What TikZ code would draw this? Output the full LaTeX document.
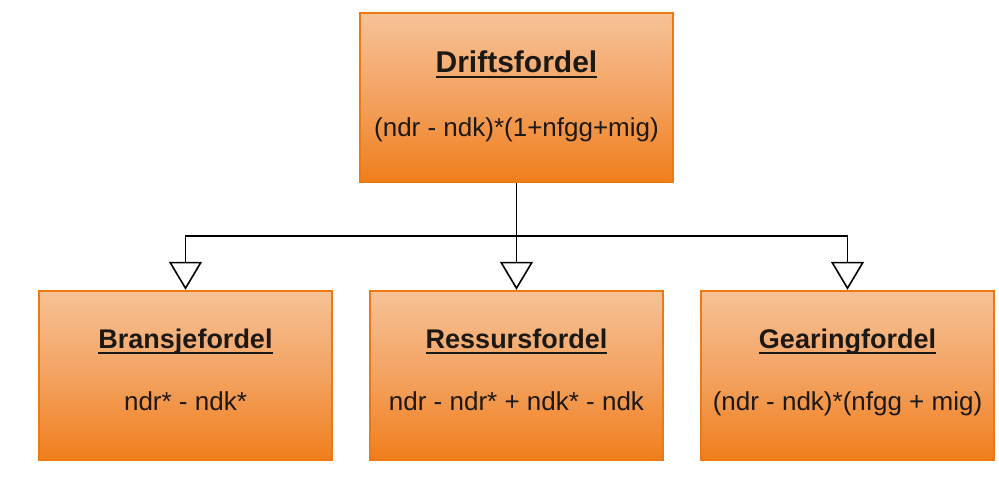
\documentclass[tikz,border=0pt]{standalone}
\usepackage{fontspec}
\setmainfont{Liberation Sans}
\usetikzlibrary{arrows.meta,calc}

\definecolor{boxedge}{RGB}{238,120,18}
\definecolor{boxtop}{RGB}{246,194,150}
\definecolor{boxmid}{RGB}{243,162,96}
\definecolor{boxbot}{RGB}{240,126,28}
\definecolor{ink}{RGB}{28,24,20}

% bold title with a flat underline a fixed distance below the baseline
\newcommand\ultitle[1]{\setbox0\hbox{\bfseries #1}\rlap{\usebox0}\rule[-5.5pt]{\wd0}{1.7pt}}

\begin{document}
\begin{tikzpicture}[x=1pt,y=-1pt,
  fbox/.style={draw=boxedge, line width=2.4pt, top color=boxtop, bottom color=boxbot,
               middle color=boxmid, minimum width=293pt, minimum height=169pt, inner sep=0pt},
  titletxt/.style={anchor=base, inner sep=0pt, text=ink, font=\fontsize{27}{32}\selectfont},
  formtxt/.style={anchor=base, inner sep=0pt, text=ink, font=\fontsize{26}{31}\selectfont},
  link/.style={draw=black, line width=1.8pt,
               -{Triangle[length=28pt, width=33pt, fill=white, line width=1.6pt]}}
]
\fill[white] (0,0) rectangle (999,477);
\useasboundingbox (0,0) rectangle (999,477);

% boxes
\node[fbox, minimum width=313pt] (drift) at (516.5,97.5) {};
\node[fbox] (bransje) at (185.5,375.5) {};
\node[fbox] (ressurs) at (516.5,375.5) {};
\node[fbox] (gearing) at (847.5,375.5) {};

% texts
\node[titletxt, font=\fontsize{30}{36}\selectfont] (driftT) at ($(drift.center)+(0,-25.5)$) {\ultitle{Driftsfordel}};
\node[formtxt] (driftF) at ($(drift.center)+(0,39)$) {(ndr - ndk)*(1+nfgg+mig)};

\node[titletxt] (bransjeT) at ($(bransje.center)+(0,-27.5)$) {\ultitle{Bransjefordel}};
\node[formtxt] (bransjeF) at ($(bransje.center)+(0,35)$) {ndr* - ndk*};

\node[titletxt] (ressursT) at ($(ressurs.center)+(0,-27.5)$) {\ultitle{Ressursfordel}};
\node[formtxt] (ressursF) at ($(ressurs.center)+(0,35)$) {ndr - ndr* + ndk* - ndk};

\node[titletxt] (gearingT) at ($(gearing.center)+(0,-27.5)$) {\ultitle{Gearingfordel}};
\node[formtxt] (gearingF) at ($(gearing.center)+(0,35)$) {(ndr - ndk)*(nfgg + mig)};

% connectors
\coordinate (bus) at (0,236);
\draw[link] (drift.south) -- (drift.south |- bus) -| (bransje.north);
\draw[link] (drift.south) -- (ressurs.north);
\draw[link] (drift.south) -- (drift.south |- bus) -| (gearing.north);
\end{tikzpicture}
\end{document}
